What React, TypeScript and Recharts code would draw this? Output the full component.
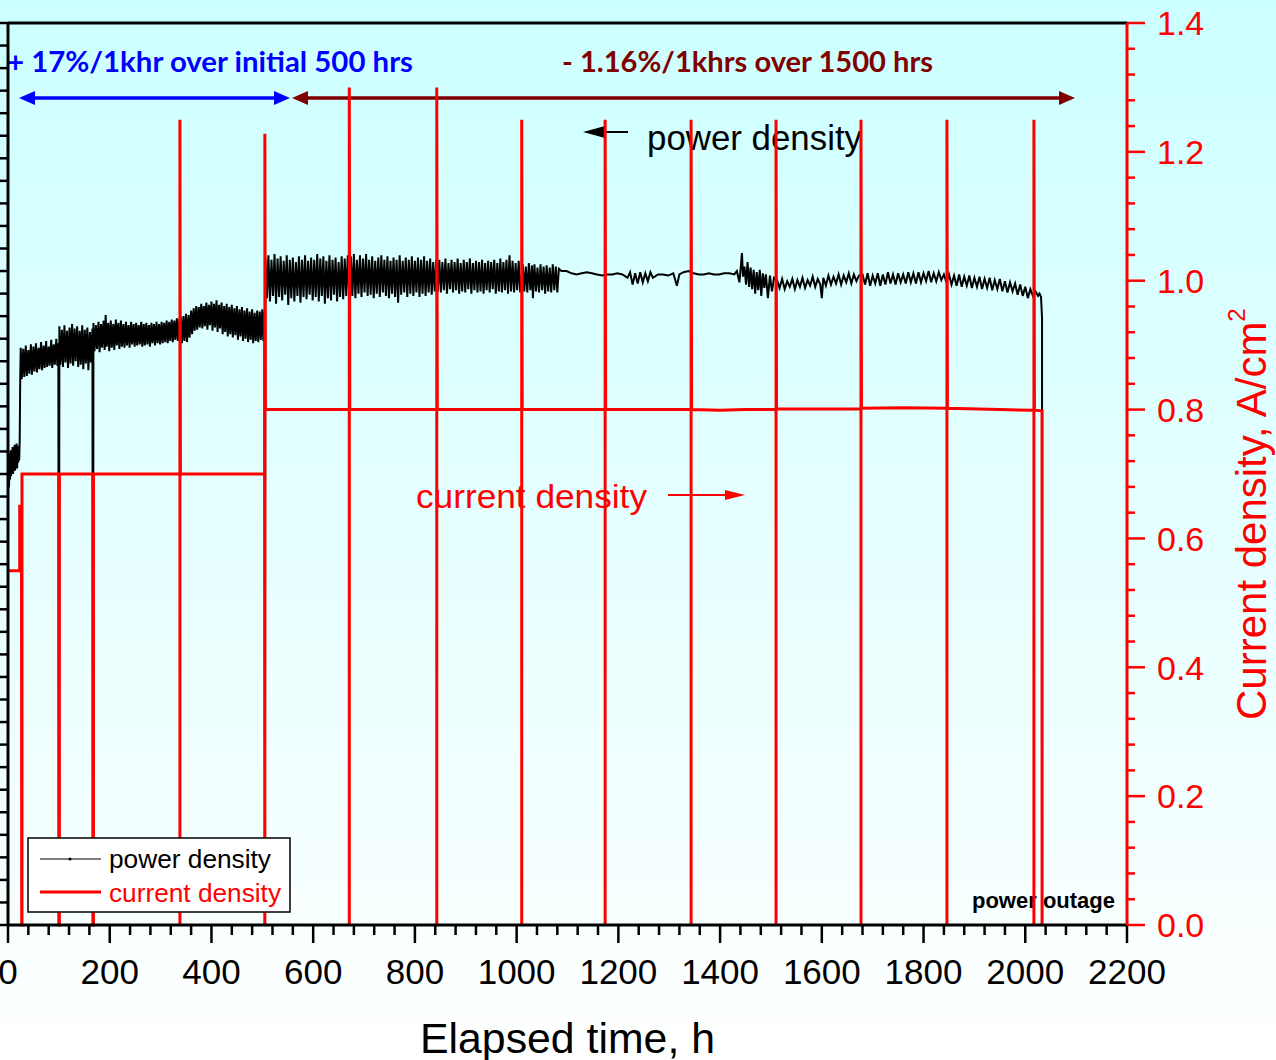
import { LineChart, Line, XAxis, YAxis } from 'recharts';

// elapsed time (h), power density (W/cm2, left axis – labels cut off in the figure)
const powerDensity: [number, number][] = [
  [0, 0.39], [1, 0.412], [2, 0.388], [3, 0.418], [4, 0.395], [5, 0.421], [6, 0.398], [7, 0.417], [8, 0.401],
  [9, 0.424], [10, 0.4], [11, 0.422], [12, 0.405], [13, 0.426], [14, 0.403], [15, 0.423], [16, 0.408],
  [17, 0.427], [18, 0.405], [19, 0.425], [20, 0.41], [21, 0.424], [22, 0.412], [23, 0.43], [24, 0.483],
  [25, 0.512], [27, 0.484], [30, 0.511], [32, 0.486], [35, 0.514], [37, 0.487], [40, 0.51], [42, 0.489],
  [45, 0.515], [47, 0.488], [50, 0.513], [52, 0.491], [55, 0.516], [57, 0.49], [60, 0.512], [62, 0.493],
  [65, 0.517], [67, 0.492], [70, 0.514], [72, 0.494], [75, 0.518], [77, 0.495], [80, 0.513], [82, 0.496],
  [85, 0.519], [87, 0.494], [90, 0.515], [92, 0.497], [95, 0.52], [97, 0.496], [99, 0.516], [100, 0],
  [101, 0.531], [103, 0.497], [106, 0.528], [108, 0.495], [111, 0.532], [113, 0.499], [116, 0.527],
  [118, 0.494], [121, 0.53], [123, 0.498], [126, 0.533], [128, 0.496], [131, 0.529], [133, 0.5],
  [136, 0.531], [138, 0.495], [141, 0.527], [143, 0.497], [146, 0.532], [148, 0.493], [151, 0.528],
  [153, 0.498], [156, 0.53], [158, 0.492], [161, 0.526], [163, 0.499], [166, 0.529], [167, 0],
  [168, 0.534], [170, 0.509], [173, 0.532], [175, 0.511], [178, 0.535], [180, 0.508], [183, 0.533],
  [185, 0.512], [188, 0.536], [190, 0.51], [192, 0.541], [194, 0.513], [197, 0.534], [199, 0.509],
  [202, 0.536], [204, 0.512], [207, 0.533], [209, 0.51], [212, 0.537], [214, 0.514], [217, 0.534],
  [219, 0.511], [222, 0.536], [224, 0.513], [227, 0.533], [229, 0.512], [232, 0.535], [234, 0.514],
  [237, 0.532], [239, 0.512], [242, 0.535], [244, 0.515], [247, 0.533], [249, 0.513], [252, 0.534],
  [254, 0.514], [257, 0.532], [259, 0.515], [262, 0.535], [264, 0.513], [267, 0.533], [269, 0.514],
  [272, 0.534], [274, 0.515], [277, 0.532], [279, 0.513], [282, 0.534], [284, 0.516], [287, 0.533],
  [289, 0.514], [292, 0.535], [294, 0.516], [297, 0.533], [299, 0.515], [302, 0.535], [304, 0.516],
  [307, 0.534], [309, 0.517], [312, 0.536], [314, 0.516], [317, 0.535], [319, 0.518], [322, 0.537],
  [324, 0.517], [327, 0.536], [329, 0.519], [332, 0.538], [334, 0.518], [337, 0.537],
  [340, 0.538], [342, 0.516], [345, 0.54], [347, 0.518], [350, 0.542], [352, 0.517], [355, 0.541],
  [357, 0.521], [360, 0.545], [362, 0.524], [365, 0.547], [367, 0.527], [370, 0.549], [372, 0.528],
  [375, 0.548], [377, 0.53], [380, 0.551], [382, 0.529], [385, 0.549], [387, 0.531], [390, 0.552],
  [392, 0.528], [395, 0.55], [397, 0.532], [400, 0.553], [402, 0.527], [405, 0.551], [407, 0.53],
  [410, 0.554], [412, 0.526], [415, 0.55], [417, 0.529], [420, 0.552], [422, 0.524], [425, 0.549],
  [427, 0.526], [430, 0.551], [432, 0.522], [435, 0.548], [437, 0.524], [440, 0.55], [442, 0.521],
  [445, 0.547], [447, 0.523], [450, 0.549], [452, 0.519], [455, 0.546], [457, 0.522], [460, 0.548],
  [462, 0.518], [465, 0.545], [467, 0.52], [470, 0.547], [472, 0.517], [475, 0.544], [477, 0.519],
  [480, 0.546], [482, 0.516], [485, 0.543], [487, 0.518], [490, 0.545], [492, 0.517], [495, 0.544],
  [497, 0.519], [500, 0.546], [502, 0.518], [504, 0.544], [505, 0],
  [506, 0.592], [509, 0.556], [512, 0.594], [515, 0.553], [518, 0.59], [521, 0.558], [524, 0.595],
  [527, 0.551], [530, 0.591], [533, 0.557], [536, 0.593], [539, 0.554], [542, 0.589], [545, 0.559],
  [548, 0.594], [551, 0.55], [554, 0.59], [557, 0.556], [560, 0.592], [563, 0.553], [566, 0.588],
  [569, 0.558], [572, 0.593], [575, 0.552], [578, 0.59], [581, 0.557], [584, 0.594], [587, 0.555],
  [590, 0.589], [593, 0.559], [596, 0.592], [599, 0.554], [602, 0.59], [605, 0.557], [608, 0.595],
  [611, 0.553], [614, 0.591], [617, 0.558], [620, 0.593], [623, 0.551], [626, 0.589], [629, 0.556],
  [632, 0.594], [635, 0.554], [638, 0.59], [641, 0.559], [644, 0.592], [647, 0.553], [650, 0.588],
  [653, 0.557], [656, 0.593], [659, 0.555], [662, 0.591], [665, 0.558], [668, 0.594], [671, 0.556],
  [674, 0.593], [677, 0.558], [680, 0.595], [683, 0.556], [686, 0.59], [689, 0.56], [692, 0.594],
  [695, 0.557], [698, 0.591], [701, 0.561], [704, 0.595], [707, 0.558], [710, 0.59], [713, 0.559],
  [716, 0.593], [719, 0.556], [722, 0.589], [725, 0.56], [728, 0.592], [731, 0.557], [734, 0.594],
  [737, 0.561], [740, 0.59], [743, 0.558], [746, 0.593], [749, 0.556], [752, 0.589], [755, 0.56],
  [758, 0.592], [761, 0.557], [764, 0.59], [767, 0.552], [770, 0.594], [773, 0.559], [776, 0.589],
  [779, 0.561], [782, 0.592], [785, 0.557], [788, 0.59], [791, 0.56], [794, 0.593], [797, 0.558],
  [800, 0.589], [803, 0.561], [806, 0.592], [809, 0.557], [812, 0.59], [815, 0.56], [818, 0.593],
  [821, 0.558], [824, 0.589], [827, 0.561], [830, 0.591], [833, 0.559], [836, 0.588], [839, 0.562],
  [842, 0.59], [845, 0.562], [848, 0.59], [851, 0.561], [854, 0.588], [857, 0.563], [860, 0.591],
  [863, 0.56], [866, 0.587], [869, 0.564], [872, 0.59], [875, 0.561], [878, 0.588], [881, 0.563],
  [884, 0.591], [887, 0.56], [890, 0.587], [893, 0.562], [896, 0.59], [899, 0.561], [902, 0.588],
  [905, 0.564], [908, 0.591], [911, 0.56], [914, 0.587], [917, 0.563], [920, 0.589], [923, 0.561],
  [926, 0.588], [929, 0.562], [932, 0.59], [935, 0.56], [938, 0.587], [941, 0.563], [944, 0.589],
  [947, 0.561], [950, 0.588], [953, 0.564], [956, 0.59], [959, 0.56], [962, 0.587], [965, 0.562],
  [968, 0.591], [971, 0.561], [974, 0.588], [977, 0.563], [980, 0.59], [983, 0.56], [986, 0.594],
  [989, 0.562], [992, 0.589], [995, 0.561], [998, 0.587], [1001, 0.563], [1004, 0.589], [1007, 0.561],
  [1012, 0.586], [1015, 0.562], [1018, 0.584], [1021, 0.561], [1024, 0.587], [1027, 0.563], [1030, 0.585],
  [1032, 0.556], [1035, 0.586], [1038, 0.562], [1041, 0.583], [1044, 0.561], [1047, 0.586], [1050, 0.563],
  [1053, 0.584], [1056, 0.56], [1059, 0.585], [1062, 0.562], [1065, 0.583], [1068, 0.561], [1071, 0.586],
  [1074, 0.563], [1077, 0.584], [1080, 0.561], [1083, 0.582],
  [1088, 0.58], [1098, 0.58], [1108, 0.578], [1118, 0.577], [1128, 0.578], [1138, 0.579], [1148, 0.578],
  [1158, 0.577], [1168, 0.576], [1178, 0.577], [1188, 0.577], [1198, 0.578], [1208, 0.577], [1218, 0.574],
  [1223, 0.579], [1228, 0.568], [1233, 0.578], [1238, 0.569], [1243, 0.579], [1248, 0.57], [1253, 0.578],
  [1258, 0.571], [1263, 0.579], [1268, 0.574], [1278, 0.577], [1288, 0.577], [1298, 0.576], [1308, 0.578],
  [1315, 0.567], [1320, 0.577], [1328, 0.579], [1338, 0.58], [1348, 0.578], [1358, 0.577], [1368, 0.577],
  [1378, 0.578], [1388, 0.577], [1398, 0.577], [1408, 0.578], [1418, 0.578], [1428, 0.577], [1433, 0.58],
  [1438, 0.57], [1441, 0.585], [1443, 0.596], [1445, 0.575], [1448, 0.584], [1451, 0.568], [1454, 0.588],
  [1457, 0.566], [1460, 0.583], [1463, 0.564], [1466, 0.581], [1469, 0.56], [1472, 0.579], [1475, 0.563],
  [1478, 0.581], [1481, 0.558], [1484, 0.578], [1487, 0.565], [1490, 0.577], [1494, 0.556], [1498, 0.576],
  [1502, 0.562], [1506, 0.574], [1512, 0.572], [1517, 0.565], [1522, 0.573], [1527, 0.564], [1532, 0.571],
  [1537, 0.566], [1542, 0.573], [1547, 0.564], [1552, 0.572], [1557, 0.566], [1562, 0.574], [1567, 0.565],
  [1572, 0.572], [1577, 0.567], [1582, 0.575], [1587, 0.566], [1592, 0.573], [1597, 0.568], [1600, 0.556],
  [1603, 0.574], [1608, 0.567], [1613, 0.576], [1618, 0.568], [1623, 0.575], [1628, 0.569], [1633, 0.577],
  [1638, 0.568], [1643, 0.576], [1648, 0.57], [1653, 0.578], [1658, 0.569], [1663, 0.577], [1668, 0.571],
  [1673, 0.576], [1680, 0.577], [1685, 0.568], [1690, 0.578], [1695, 0.567], [1700, 0.576], [1705, 0.569],
  [1710, 0.578], [1715, 0.567], [1720, 0.577], [1725, 0.568], [1730, 0.579], [1735, 0.569], [1740, 0.577],
  [1745, 0.568], [1750, 0.578], [1755, 0.57], [1760, 0.577], [1765, 0.569], [1770, 0.579], [1775, 0.57],
  [1780, 0.578], [1785, 0.569], [1790, 0.579], [1795, 0.57], [1800, 0.578], [1805, 0.571], [1810, 0.58],
  [1815, 0.57], [1820, 0.578], [1825, 0.571], [1830, 0.579], [1835, 0.572], [1840, 0.577], [1845, 0.57],
  [1850, 0.577], [1855, 0.568], [1860, 0.576], [1865, 0.567], [1870, 0.577], [1875, 0.566], [1880, 0.575],
  [1885, 0.567], [1890, 0.576], [1895, 0.565], [1900, 0.574], [1905, 0.566], [1910, 0.575], [1915, 0.564],
  [1920, 0.573], [1925, 0.565], [1930, 0.574], [1935, 0.563], [1940, 0.572], [1945, 0.564], [1950, 0.573],
  [1955, 0.562], [1960, 0.571], [1965, 0.561], [1970, 0.57], [1975, 0.562], [1980, 0.569], [1985, 0.559],
  [1990, 0.568], [1995, 0.558], [2000, 0.566], [2005, 0.556], [2010, 0.564], [2015, 0.558], [2020, 0.562],
  [2025, 0.558], [2028, 0.56], [2031, 0.557], [2033, 0.538], [2033, 0],
];

// elapsed time (h), current density (A/cm2, right axis)
const currentDensity: [number, number][] = [
  [0, 0.55], [23, 0.55], [23, 0.65], [26.5, 0.65], [27, 0], [27.5, 0], [27.5, 0.7], [100, 0.7], [100, 0],
  [101, 0], [101, 0.7], [167, 0.7], [167, 0], [168, 0], [168, 0.7], [338, 0.7], [338, 0], [338, 1.25],
  [339, 0.7], [505, 0.7], [505, 0], [505, 1.228], [506, 0.8], [671, 0.8], [671, 0], [671, 1.3], [672, 0.8],
  [843, 0.8], [843, 0], [843, 1.3], [844, 0.8], [1010, 0.8], [1010, 0], [1010, 1.25], [1011, 0.8],
  [1174, 0.8], [1174, 0], [1174, 1.25], [1175, 0.8], [1343, 0.8], [1343, 0], [1343, 1.25], [1344, 0.8],
  [1400, 0.799], [1450, 0.8], [1510, 0.8], [1510, 0], [1510, 1.25], [1511, 0.801], [1677, 0.801],
  [1677, 0], [1677, 1.25], [1678, 0.802], [1760, 0.803], [1846, 0.802], [1846, 0], [1846, 1.25],
  [1847, 0.802], [1950, 0.8], [2017, 0.799], [2017, 0], [2017, 1.25], [2018, 0.799], [2033, 0.798], [2033, 0],
];

const xMajorTicks = [0, 200, 400, 600, 800, 1000, 1200, 1400, 1600, 1800, 2000, 2200];
const rightMajorTicks = [0, 0.2, 0.4, 0.6, 0.8, 1.0, 1.2, 1.4];
const leftMajorTicks = [0, 0.1, 0.2, 0.3, 0.4, 0.5, 0.6, 0.7, 0.8];

const subdivide = (majors: number[], n: number) => {
  const out: number[] = [];
  for (let i = 0; i < majors.length - 1; i++) {
    const step = (majors[i + 1] - majors[i]) / n;
    for (let k = 0; k < n; k++) out.push(majors[i] + k * step);
  }
  out.push(majors[majors.length - 1]);
  return out;
};

const xTicks = subdivide(xMajorTicks, 5);
const rightTicks = subdivide(rightMajorTicks, 5);
const leftTicks = subdivide(leftMajorTicks, 5);

const isMajor = (v: number, step: number) => Math.abs(v / step - Math.round(v / step)) < 1e-6;

const pdData = powerDensity.map(([t, v]) => ({ t, v }));
const cdData = currentDensity.map(([t, v]) => ({ t, v }));

const ARIAL = 'Liberation Sans, Arial, sans-serif';
const CALIBRI = 'Lato, Carlito, Calibri, sans-serif';

function BottomTick(props: any) {
  const { x, y, payload } = props;
  const major = isMajor(payload.value, 200);
  return (
    <g>
      <line x1={x} y1={y} x2={x} y2={y + (major ? 18 : 10)} stroke="#000" strokeWidth={2.5} />
      {major && (
        <text x={x} y={y + 59} textAnchor="middle" fontSize={35} fontFamily={ARIAL} fill="#000">
          {Math.round(payload.value)}
        </text>
      )}
    </g>
  );
}

function TopTick(props: any) {
  const { x, y, payload } = props;
  const major = isMajor(payload.value, 200);
  return <line x1={x} y1={y} x2={x} y2={y + (major ? 19 : 10)} stroke="#000" strokeWidth={2.5} />;
}

function LeftTick(props: any) {
  const { x, y } = props;
  return <line x1={x - 8} y1={y} x2={x} y2={y} stroke="#000" strokeWidth={2.5} />;
}

function RightTick(props: any) {
  const { x, y, payload } = props;
  const major = isMajor(payload.value, 0.2);
  return (
    <g>
      <line x1={x} y1={y} x2={x + (major ? 18 : 8)} y2={y} stroke="#ff0000" strokeWidth={2.5} />
      {major && (
        <text x={x + 30} y={y} dy="0.36em" fontSize={34} fontFamily={ARIAL} fill="#ff0000">
          {payload.value.toFixed(1)}
        </text>
      )}
    </g>
  );
}

function Annotations() {
  return (
    <svg width={1276} height={1060} style={{ position: 'absolute', left: 0, top: 0, zIndex: 0 }}>
      <text x={7} y={72} fontFamily={CALIBRI} fontWeight={700} fontSize={28} fill="#0000ff"
        textLength={406} lengthAdjust="spacingAndGlyphs">+ 17%/1khr over initial 500 hrs</text>
      <text x={562} y={72} fontFamily={CALIBRI} fontWeight={700} fontSize={28} fill="#800000"
        textLength={371} lengthAdjust="spacingAndGlyphs">- 1.16%/1khrs over 1500 hrs</text>

      <line x1={33} y1={98} x2={277} y2={98} stroke="#0000ff" strokeWidth={3.5} />
      <polygon points="19,98 35,91 35,105" fill="#0000ff" />
      <polygon points="290,98 274,91 274,105" fill="#0000ff" />
      <line x1={305} y1={98} x2={1062} y2={98} stroke="#800000" strokeWidth={3.5} />
      <polygon points="292,98 308,91 308,105" fill="#800000" />
      <polygon points="1075,98 1059,91 1059,105" fill="#800000" />

      <line x1={603} y1={132} x2={628} y2={132} stroke="#000" strokeWidth={2} />
      <polygon points="583,132 605,126 605,138" fill="#000" />
      <text x={647} y={150} fontFamily={ARIAL} fontSize={35} fill="#000"
        textLength={215} lengthAdjust="spacingAndGlyphs">power density</text>

      <text x={416} y={508} fontFamily={ARIAL} fontSize={34} fill="#ff0000"
        textLength={231} lengthAdjust="spacingAndGlyphs">current density</text>
      <line x1={668} y1={495} x2={727} y2={495} stroke="#ff0000" strokeWidth={2} />
      <polygon points="745,495 725,490 725,500" fill="#ff0000" />

      <text x={972} y={908} fontFamily={ARIAL} fontWeight={700} fontSize={22} fill="#000"
        textLength={143} lengthAdjust="spacingAndGlyphs">power outage</text>

      <text x={420} y={1053} fontFamily={ARIAL} fontSize={42} fill="#000"
        textLength={295} lengthAdjust="spacingAndGlyphs">Elapsed time, h</text>
      <text transform="translate(1266,720) rotate(-90)" fontFamily={ARIAL} fontSize={42} fill="#ff0000">
        Current density, A/cm<tspan dy={-21} fontSize={24}>2</tspan>
      </text>
    </svg>
  );
}

function LegendBox() {
  return (
    <svg width={1276} height={1060} style={{ position: 'absolute', left: 0, top: 0, zIndex: 2, pointerEvents: 'none' }}>
      <rect x={28} y={838} width={262} height={74} fill="#ffffff" stroke="#000" strokeWidth={1.5} />
      <line x1={40} y1={859} x2={101} y2={859} stroke="#000" strokeWidth={1.2} />
      <circle cx={70} cy={859} r={1.5} fill="#000" />
      <text x={109} y={868} fontFamily={ARIAL} fontSize={26} fill="#000"
        textLength={162} lengthAdjust="spacingAndGlyphs">power density</text>
      <line x1={40} y1={892} x2={101} y2={892} stroke="#ff0000" strokeWidth={3} />
      <text x={109} y={902} fontFamily={ARIAL} fontSize={26} fill="#ff0000"
        textLength={172} lengthAdjust="spacingAndGlyphs">current density</text>
    </svg>
  );
}

export default function App() {
  return (
    <div
      style={{
        position: 'absolute',
        left: 0,
        top: 0,
        width: 1276,
        height: 1060,
        overflow: 'hidden',
        background: 'linear-gradient(to bottom, #ccffff 0%, #ffffff 100%)',
      }}
    >
      <Annotations />
      <div style={{ position: 'absolute', left: 0, top: 0, zIndex: 1 }}>
        <LineChart width={1276} height={1060} margin={{ top: 0, right: 0, bottom: 0, left: 0 }}>
          <XAxis
            xAxisId="b"
            dataKey="t"
            type="number"
            domain={[0, 2200]}
            ticks={xTicks}
            interval={0}
            height={135}
            tickSize={0}
            tickMargin={0}
            tickLine={false}
            axisLine={{ stroke: '#000', strokeWidth: 3 }}
            tick={(p: any) => <BottomTick {...p} />}
          />
          <XAxis
            xAxisId="t"
            orientation="top"
            dataKey="t"
            type="number"
            domain={[0, 2200]}
            ticks={xTicks}
            interval={0}
            height={23}
            tickSize={0}
            tickMargin={0}
            tickLine={false}
            axisLine={{ stroke: '#000', strokeWidth: 3 }}
            tick={(p: any) => <TopTick {...p} />}
          />
          <YAxis
            yAxisId="left"
            type="number"
            domain={[0, 0.8]}
            ticks={leftTicks}
            interval={0}
            width={8}
            tickSize={0}
            tickMargin={0}
            tickLine={false}
            axisLine={{ stroke: '#000', strokeWidth: 3 }}
            tick={(p: any) => <LeftTick {...p} />}
          />
          <YAxis
            yAxisId="right"
            orientation="right"
            type="number"
            domain={[0, 1.4]}
            ticks={rightTicks}
            interval={0}
            width={149}
            tickSize={0}
            tickMargin={0}
            tickLine={false}
            axisLine={{ stroke: '#ff0000', strokeWidth: 3 }}
            tick={(p: any) => <RightTick {...p} />}
          />
          <Line
            data={pdData}
            xAxisId="b"
            yAxisId="left"
            dataKey="v"
            type="linear"
            stroke="#000"
            strokeWidth={2}
            dot={false}
            activeDot={false}
            isAnimationActive={false}
          />
          <Line
            data={cdData}
            xAxisId="b"
            yAxisId="right"
            dataKey="v"
            type="linear"
            stroke="#ff0000"
            strokeWidth={3}
            dot={false}
            activeDot={false}
            isAnimationActive={false}
          />
        </LineChart>
      </div>
      <LegendBox />
    </div>
  );
}
